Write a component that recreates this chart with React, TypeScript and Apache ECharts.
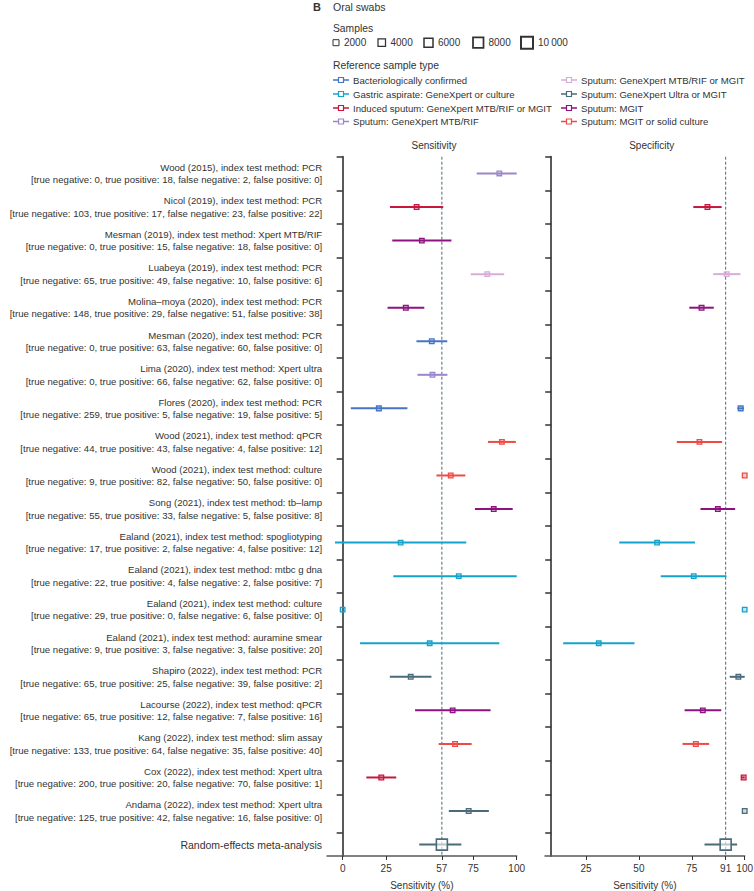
import React, { useEffect, useRef } from "react";
import * as echarts from "echarts";

// ---------- data ----------
const studies = [
  "Wood (2015)", "Nicol (2019)", "Mesman (2019)", "Luabeya (2019)", "Molina–moya (2020)",
  "Mesman (2020)", "Lima (2020)", "Flores (2020)", "Wood (2021)", "Wood (2021)",
  "Song (2021)", "Ealand (2021)", "Ealand (2021)", "Ealand (2021)", "Ealand (2021)",
  "Shapiro (2022)", "Lacourse (2022)", "Kang (2022)", "Cox (2022)", "Andama (2022)",
];
const methods = [
  "PCR", "PCR", "Xpert MTB/RIF", "PCR", "PCR", "PCR", "Xpert ultra", "PCR", "qPCR", "culture",
  "tb–lamp", "spogliotyping", "mtbc g dna", "culture", "auramine smear", "PCR", "qPCR",
  "slim assay", "Xpert ultra", "Xpert ultra",
];
const trueNeg = [0, 103, 0, 65, 148, 0, 0, 259, 44, 9, 55, 17, 22, 29, 9, 65, 65, 133, 200, 125];
const truePos = [18, 17, 15, 49, 29, 63, 66, 5, 43, 82, 33, 2, 4, 0, 3, 25, 12, 64, 20, 42];
const falseNeg = [2, 23, 18, 10, 51, 60, 62, 19, 4, 50, 5, 4, 2, 6, 3, 39, 7, 35, 70, 16];
const falsePos = [0, 22, 0, 6, 38, 0, 0, 5, 12, 0, 8, 12, 7, 0, 20, 2, 16, 40, 1, 0];

const typeNames = [
  "Bacteriologically confirmed",
  "Gastric aspirate: GeneXpert or culture",
  "Induced sputum: GeneXpert MTB/RIF or MGIT",
  "Sputum: GeneXpert MTB/RIF",
  "Sputum: GeneXpert MTB/RIF or MGIT",
  "Sputum: GeneXpert Ultra or MGIT",
  "Sputum: MGIT",
  "Sputum: MGIT or solid culture",
];
const typeColors = ["#4575c4", "#14a3cc", "#c8173f", "#9d85cc", "#d9acd9", "#4c6b7a", "#8e1280", "#f04a45"];
const studyType = [3, 2, 6, 4, 6, 0, 3, 0, 7, 7, 6, 1, 1, 1, 1, 5, 6, 7, 2, 5];

const sens = [90, 42.5, 45.5, 83.1, 36.3, 51.2, 51.6, 20.8, 91.5, 62.1, 86.8, 33.3, 66.7, 0, 50, 39.1, 63.2, 64.6, 22.2, 72.4];
const sensLo = [77, 27.2, 28.5, 73.6, 25.8, 42.4, 43, 4.7, 83.5, 53.9, 76, -4.4, 29.1, 0, 10, 27.1, 41.6, 55.2, 13.6, 61];
const sensHi = [100, 57.8, 62.5, 92.8, 46.9, 60.1, 60.2, 37.2, 99.5, 70.5, 97.7, 71, 100, 0, 90, 51, 85, 74.1, 30.8, 84];

const spec = [null, 82.4, null, 91.5, 79.6, null, null, 98.1, 78.6, 100, 87.3, 58.6, 75.9, 100, 31, 97, 80.2, 76.9, 99.5, 100];
const specLo = [null, 75.7, null, 85.1, 73.8, null, null, 96.5, 67.9, 100, 79.1, 40.7, 60.3, 100, 14.2, 92.9, 71.6, 70.6, 98.5, 100];
const specHi = [null, 89.1, null, 98, 85.4, null, null, 99.7, 89.3, 100, 95.5, 76.5, 91.4, 100, 47.9, 100, 88.9, 83.2, 100, 100];

const metaLabel = "Random-effects meta-analysis";
const metaSens = [57, 44, 68.2];
const metaSpec = [91, 81, 96.4];

const sensTicks = [0, 25, 57, 75, 100];
const specTicks = [25, 50, 75, 91, 100];
const sampleLegend = [2000, 4000, 6000, 8000, 10000];

// ---------- style / layout ----------
const FONT = "'Liberation Sans', Arial, sans-serif";
const TXT = "#333333";
const METACOLOR = "#4c6b7a";
const ROWMAX = 20.84;
const tickRows = [...studies.map((_, i) => i), 20.16];
const labelRows = studies.map((_, i) => i + 0.5);
const metaRow = 20.5;

const sqSize = (n: number) => 4.5 + n * 0.00075;

function rgba(hex: string, a: number) {
  const v = parseInt(hex.slice(1), 16);
  return `rgba(${(v >> 16) & 255},${(v >> 8) & 255},${v & 255},${a})`;
}

function renderCI(params: any, api: any) {
  const est = api.value(0), lo = api.value(1), hi = api.value(2);
  const row = api.value(3), ti = api.value(4), sz = api.value(5);
  const c = ti >= 0 ? typeColors[ti] : METACOLOR;
  const p = api.coord([est, row]);
  const a = api.coord([lo, row]);
  const b = api.coord([hi, row]);
  const children: any[] = [];
  if (hi > lo) {
    children.push({
      type: "line",
      shape: { x1: a[0], y1: a[1], x2: b[0], y2: b[1] },
      style: { stroke: c, lineWidth: 2 },
    });
  }
  children.push({
    type: "rect",
    shape: { x: p[0] - sz / 2, y: p[1] - sz / 2, width: sz, height: sz },
    style: { fill: ti >= 0 ? rgba(c, 0.25) : "rgba(255,255,255,0.6)", stroke: c, lineWidth: ti >= 0 ? 1.3 : 1.6 },
  });
  return { type: "group", children };
}

export default function App() {
  const ref = useRef<HTMLDivElement>(null);
  useEffect(() => {
    if (!ref.current) return;
    const chart = echarts.init(ref.current, null, { renderer: "svg" });

    const nTot = studies.map((_, i) => trueNeg[i] + truePos[i] + falseNeg[i] + falsePos[i]);
    const sensData = studies.map((_, i) => [sens[i], sensLo[i], sensHi[i], i + 0.5, studyType[i], sqSize(nTot[i])]);
    sensData.push([metaSens[0], metaSens[1], metaSens[2], metaRow, -1, 11]);
    const specData: any[] = [];
    studies.forEach((_, i) => {
      if (spec[i] !== null) specData.push([spec[i], specLo[i], specHi[i], i + 0.5, studyType[i], sqSize(nTot[i])]);
    });
    specData.push([metaSpec[0], metaSpec[1], metaSpec[2], metaRow, -1, 11]);

    const labels = studies.map(
      (s, i) =>
        `${s}, index test method: ${methods[i]}\n[true negative: ${trueNeg[i]}, true positive: ${truePos[i]}, false negative: ${falseNeg[i]}, false positive: ${falsePos[i]}]`
    );

    const yBase = (idx: number, showLabels: boolean) => ({
      type: "value",
      gridIndex: idx,
      inverse: true,
      min: 0,
      max: ROWMAX,
      offset: -6.2,
      axisLine: { show: true, lineStyle: { color: "#5a5a5a", width: 2 } },
      axisTick: { show: true, length: 6, customValues: tickRows, lineStyle: { color: "#333", width: 1.5 } },
      splitLine: { show: false },
      axisLabel: showLabels
        ? {
            show: true,
            customValues: labelRows,
            formatter: (v: number) => labels[Math.floor(v)] ?? "",
            fontFamily: FONT,
            fontSize: 9.6,
            lineHeight: 12.5,
            color: TXT,
            margin: 11,
          }
        : { show: false },
    });

    const xBase = (idx: number, min: number, ticks: number[]) => ({
      type: "value",
      gridIndex: idx,
      min,
      max: 100,
      axisLine: { show: true, onZero: false, lineStyle: { color: "#5a5a5a", width: 1.5 } },
      axisTick: { show: true, length: 4, customValues: ticks, lineStyle: { color: "#333" } },
      axisLabel: { show: true, customValues: ticks, fontFamily: FONT, fontSize: 10, color: TXT, margin: 7 },
      splitLine: { show: false },
      name: "Sensitivity (%)",
      nameLocation: "middle",
      nameGap: 24,
      nameTextStyle: { fontFamily: FONT, fontSize: 10, color: TXT },
    });

    const dashed = (idx: number, x: number) => ({
      type: "line",
      xAxisIndex: idx,
      yAxisIndex: idx,
      data: [[x, 0], [x, ROWMAX]],
      symbol: "none",
      silent: true,
      z: 1,
      lineStyle: { color: "#4d6a7a", width: 1, type: [3, 2] },
    });

    chart.setOption({
      animation: false,
      grid: [
        { left: 327, top: 156.7, width: 189.7, height: 699.3, containLabel: false, outerBoundsMode: "none" },
        { left: 545, top: 156.7, width: 199.7, height: 699.3, containLabel: false, outerBoundsMode: "none" },
      ],
      xAxis: [xBase(0, -9, sensTicks), xBase(1, 5.6, specTicks)],
      yAxis: [yBase(0, true), yBase(1, false)],
      series: [
        dashed(0, metaSens[0]),
        dashed(1, metaSpec[0]),
        { type: "custom", xAxisIndex: 0, yAxisIndex: 0, renderItem: renderCI, data: sensData, encode: { x: [0, 1, 2], y: 3 }, z: 3 },
        { type: "custom", xAxisIndex: 1, yAxisIndex: 1, renderItem: renderCI, data: specData, encode: { x: [0, 1, 2], y: 3 }, z: 3 },
      ],
    });

    const metaPix = chart.convertToPixel({ xAxisIndex: 0, yAxisIndex: 0 }, [0, metaRow]) as number[];
    const tStyle = (extra: any) => ({ fontFamily: FONT, fontSize: 9.6, fill: TXT, ...extra });
    const g: any[] = [];
    g.push({ type: "text", x: 313, y: 7, style: tStyle({ text: "B", fontWeight: "bold", fontSize: 11, verticalAlign: "middle" }) });
    g.push({ type: "text", x: 333, y: 7, style: tStyle({ text: "Oral swabs", fontSize: 10.5, fontWeight: 500, verticalAlign: "middle" }) });
    g.push({ type: "text", x: 333, y: 28.5, style: tStyle({ text: "Samples", fontSize: 10.3, verticalAlign: "middle" }) });
    const sampleX = [333, 378, 424, 473, 521];
    sampleLegend.forEach((v, i) => {
      const s = sqSize(v);
      g.push({
        type: "rect",
        shape: { x: sampleX[i], y: 42.7 - s / 2, width: s, height: s },
        style: { fill: "#fff", stroke: "#333", lineWidth: 1 + i * 0.25 },
      });
      g.push({
        type: "text",
        x: sampleX[i] + s + 5,
        y: 42.7,
        style: tStyle({ text: v >= 10000 ? "10\u2009000" : String(v), fontSize: 10, verticalAlign: "middle" }),
      });
    });
    g.push({ type: "text", x: 333, y: 65, style: tStyle({ text: "Reference sample type", fontSize: 10.3, verticalAlign: "middle" }) });
    const legRowsY = [80, 94, 108, 121.5];
    typeNames.forEach((name, i) => {
      const col = i < 4 ? 0 : 1;
      const x = col === 0 ? 333 : 561;
      const y = legRowsY[i % 4];
      const c = typeColors[i];
      g.push({ type: "line", shape: { x1: x, y1: y, x2: x + 16, y2: y }, style: { stroke: c, lineWidth: 1.5 } });
      g.push({ type: "rect", shape: { x: x + 5.5, y: y - 2.5, width: 5, height: 5 }, style: { fill: "#fff", stroke: c, lineWidth: 1.2 } });
      g.push({ type: "text", x: x + 20, y, style: tStyle({ text: name, verticalAlign: "middle" }) });
    });
    g.push({ type: "text", x: 434, y: 145, style: tStyle({ text: "Sensitivity", fontSize: 10, align: "center", verticalAlign: "middle" }) });
    g.push({ type: "text", x: 651.7, y: 145, style: tStyle({ text: "Specificity", fontSize: 10, align: "center", verticalAlign: "middle" }) });
    g.push({
      type: "text",
      x: 322,
      y: metaPix[1],
      style: tStyle({ text: metaLabel, fontSize: 10.5, align: "right", verticalAlign: "middle" }),
    });
    chart.setOption({ graphic: g });

    return () => chart.dispose();
  }, []);
  return <div ref={ref} style={{ position: "absolute", left: 0, top: 0, width: 754, height: 891 }} />;
}
